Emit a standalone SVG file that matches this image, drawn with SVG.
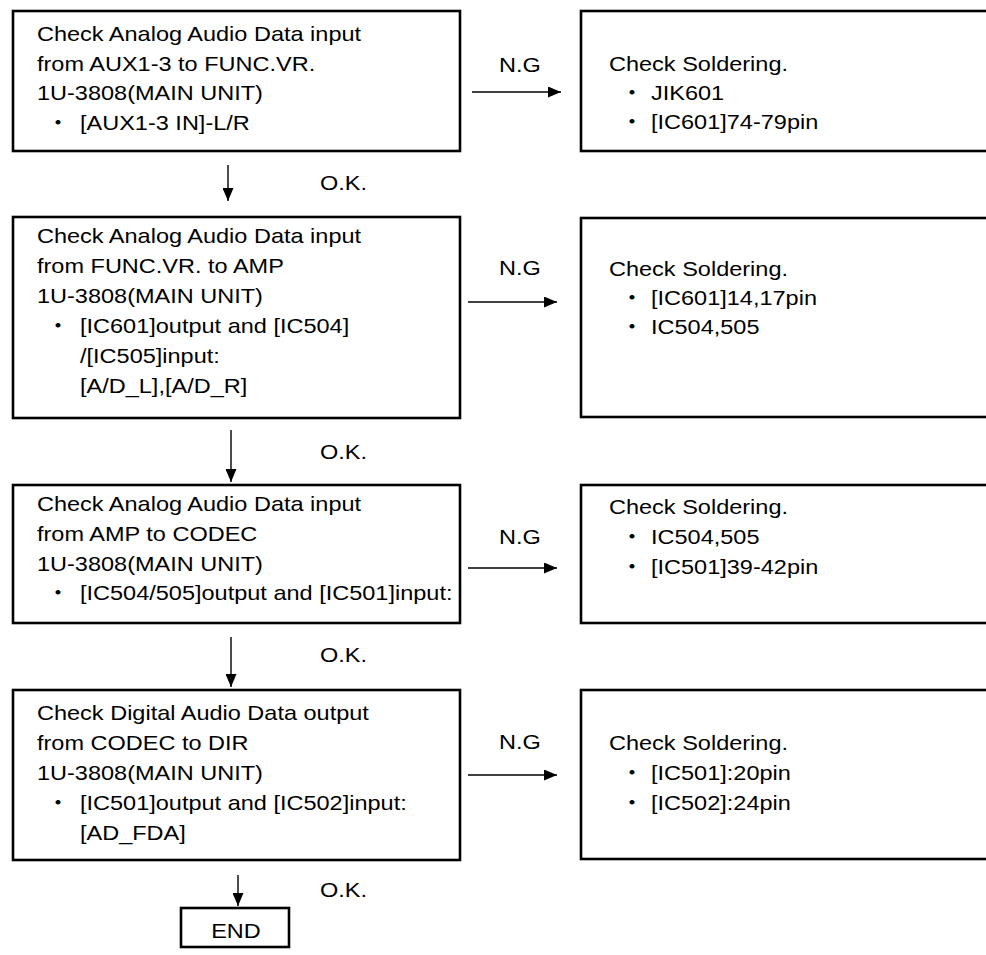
<svg xmlns="http://www.w3.org/2000/svg" width="986" height="955" viewBox="0 0 986 955">
<style>
.box{fill:#fff;stroke:#000;stroke-width:2.6}
.t{font-family:"Liberation Sans","Noto Sans CJK JP",Arial,sans-serif;font-size:21px;fill:#000}
.c{text-anchor:middle}
.ln{stroke:#000;stroke-width:1.4;fill:none}
</style>
<defs>
<marker id="ah" viewBox="0 0 13 11" refX="13" refY="5.5" markerWidth="13" markerHeight="11" markerUnits="userSpaceOnUse" orient="auto">
<path d="M0,0 L13,5.5 L0,11 z" fill="#000"/>
</marker>
</defs>
<rect width="986" height="955" fill="#fff"/>

<g id="step1">
<rect class="box" x="13" y="11" width="447" height="140"/>
<g transform="matrix(1.12 0 0 1 37 0)">
<text class="t" x="0" y="41">Check Analog Audio Data input</text>
<text class="t" x="0" y="71">from AUX1-3 to FUNC.VR.</text>
<text class="t" x="0" y="100">1U-3808(MAIN UNIT)</text>
<text class="t" y="130"><tspan x="8.3">・</tspan><tspan x="38.4">[AUX1-3 IN]-L/R</tspan></text>
</g>
</g>
<g id="ng1">
<rect class="box" x="581" y="11" width="420" height="140"/>
<g transform="matrix(1.12 0 0 1 609 0)">
<text class="t" x="0" y="71">Check Soldering.</text>
<text class="t" y="100"><tspan x="10">・</tspan><tspan x="37.5">JIK601</tspan></text>
<text class="t" y="129"><tspan x="10">・</tspan><tspan x="37.5">[IC601]74-79pin</tspan></text>
</g>
</g>

<g id="step2">
<rect class="box" x="13" y="217" width="447" height="201"/>
<g transform="matrix(1.12 0 0 1 37 0)">
<text class="t" x="0" y="243">Check Analog Audio Data input</text>
<text class="t" x="0" y="273">from FUNC.VR. to AMP</text>
<text class="t" x="0" y="303">1U-3808(MAIN UNIT)</text>
<text class="t" y="333"><tspan x="8.3">・</tspan><tspan x="38.4">[IC601]output and [IC504]</tspan></text>
<text class="t" x="38.4" y="363">/[IC505]input:</text>
<text class="t" x="38.4" y="393">[A/D_L],[A/D_R]</text>
</g>
</g>
<g id="ng2">
<rect class="box" x="581" y="218" width="420" height="199"/>
<g transform="matrix(1.12 0 0 1 609 0)">
<text class="t" x="0" y="276">Check Soldering.</text>
<text class="t" y="305"><tspan x="10">・</tspan><tspan x="37.5">[IC601]14,17pin</tspan></text>
<text class="t" y="334"><tspan x="10">・</tspan><tspan x="37.5">IC504,505</tspan></text>
</g>
</g>

<g id="step3">
<rect class="box" x="13" y="485" width="447" height="138"/>
<g transform="matrix(1.12 0 0 1 37 0)">
<text class="t" x="0" y="511">Check Analog Audio Data input</text>
<text class="t" x="0" y="541">from AMP to CODEC</text>
<text class="t" x="0" y="571">1U-3808(MAIN UNIT)</text>
<text class="t" y="600"><tspan x="8.3">・</tspan><tspan x="38.4">[IC504/505]output and [IC501]input:</tspan></text>
</g>
</g>
<g id="ng3">
<rect class="box" x="581" y="485" width="420" height="138"/>
<g transform="matrix(1.12 0 0 1 609 0)">
<text class="t" x="0" y="514">Check Soldering.</text>
<text class="t" y="544"><tspan x="10">・</tspan><tspan x="37.5">IC504,505</tspan></text>
<text class="t" y="574"><tspan x="10">・</tspan><tspan x="37.5">[IC501]39-42pin</tspan></text>
</g>
</g>

<g id="step4">
<rect class="box" x="13" y="690" width="447" height="170"/>
<g transform="matrix(1.12 0 0 1 37 0)">
<text class="t" x="0" y="720">Check Digital Audio Data output</text>
<text class="t" x="0" y="750">from CODEC to DIR</text>
<text class="t" x="0" y="780">1U-3808(MAIN UNIT)</text>
<text class="t" y="810"><tspan x="8.3">・</tspan><tspan x="38.4">[IC501]output and [IC502]input:</tspan></text>
<text class="t" x="38.4" y="840">[AD_FDA]</text>
</g>
</g>
<g id="ng4">
<rect class="box" x="581" y="690" width="420" height="169"/>
<g transform="matrix(1.12 0 0 1 609 0)">
<text class="t" x="0" y="750">Check Soldering.</text>
<text class="t" y="780"><tspan x="10">・</tspan><tspan x="37.5">[IC501]:20pin</tspan></text>
<text class="t" y="810"><tspan x="10">・</tspan><tspan x="37.5">[IC502]:24pin</tspan></text>
</g>
</g>

<g id="end">
<rect class="box" x="181" y="908" width="108" height="39"/>
<g transform="matrix(1.12 0 0 1 236 0)">
<text class="t c" x="0" y="938">END</text>
</g>
</g>

<g id="connectors">
<line class="ln" x1="472" y1="92" x2="561" y2="92" marker-end="url(#ah)"/>
<line class="ln" x1="468" y1="302" x2="557" y2="302" marker-end="url(#ah)"/>
<line class="ln" x1="468" y1="568" x2="557" y2="568" marker-end="url(#ah)"/>
<line class="ln" x1="468" y1="775" x2="557" y2="775" marker-end="url(#ah)"/>
<line class="ln" x1="228" y1="165" x2="228" y2="201" marker-end="url(#ah)"/>
<line class="ln" x1="231" y1="430" x2="231" y2="482" marker-end="url(#ah)"/>
<line class="ln" x1="231" y1="637" x2="231" y2="687" marker-end="url(#ah)"/>
<line class="ln" x1="238" y1="875" x2="238" y2="906" marker-end="url(#ah)"/>
<g transform="matrix(1.12 0 0 1 520 0)">
<text class="t c" x="0" y="72">N.G</text>
<text class="t c" x="0" y="275">N.G</text>
<text class="t c" x="0" y="544">N.G</text>
<text class="t c" x="0" y="749">N.G</text>
</g>
<g transform="matrix(1.12 0 0 1 320 0)">
<text class="t" x="0" y="190">O.K.</text>
<text class="t" x="0" y="459">O.K.</text>
<text class="t" x="0" y="662">O.K.</text>
<text class="t" x="0" y="897">O.K.</text>
</g>
</g>
</svg>
